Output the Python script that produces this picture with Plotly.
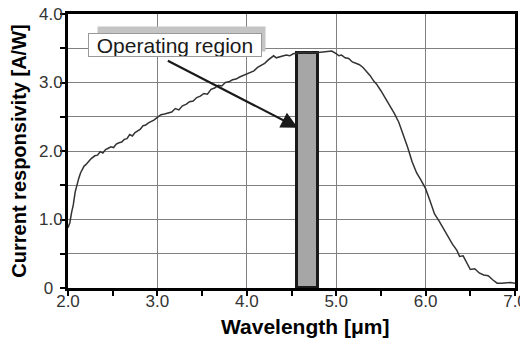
import plotly.graph_objects as go

# ---- data ----
wavelength = [2.00, 2.02, 2.04, 2.06, 2.08, 2.10, 2.12, 2.14, 2.16, 2.18,
              2.20, 2.22, 2.24, 2.26, 2.28, 2.30, 2.33, 2.36, 2.39, 2.42,
              2.45, 2.48, 2.51, 2.54, 2.57, 2.60, 2.63, 2.66, 2.69, 2.72,
              2.75, 2.78, 2.81, 2.84, 2.87, 2.90, 2.93, 2.96, 3.00, 3.04,
              3.08, 3.12, 3.16, 3.20, 3.24, 3.28, 3.32, 3.36, 3.40, 3.44,
              3.48, 3.52, 3.56, 3.60, 3.64, 3.68, 3.72, 3.76, 3.80, 3.84,
              3.88, 3.92, 3.96, 4.00, 4.04, 4.08, 4.12, 4.16, 4.20, 4.24,
              4.28, 4.30, 4.33, 4.36, 4.40, 4.44, 4.48, 4.52, 4.56, 4.60,
              4.65, 4.70, 4.75, 4.80, 4.85, 4.90, 4.95, 5.00, 5.03, 5.06,
              5.10, 5.14, 5.18, 5.22, 5.26, 5.30, 5.34, 5.38, 5.42, 5.45,
              5.50, 5.55, 5.60, 5.65, 5.70, 5.75, 5.80, 5.85, 5.90, 5.95,
              6.00, 6.05, 6.10, 6.15, 6.20, 6.25, 6.30, 6.35, 6.38, 6.42,
              6.46, 6.50, 6.55, 6.60, 6.65, 6.70, 6.75, 6.80, 6.85, 6.90,
              6.95, 7.00]
responsivity = [0.88, 0.95, 1.10, 1.22, 1.40, 1.52, 1.60, 1.68, 1.73, 1.78,
                1.80, 1.84, 1.86, 1.89, 1.91, 1.93, 1.94, 1.99, 1.97, 2.02,
                2.04, 2.06, 2.05, 2.10, 2.12, 2.13, 2.17, 2.18, 2.24, 2.22,
                2.27, 2.30, 2.32, 2.37, 2.38, 2.41, 2.43, 2.45, 2.49, 2.53,
                2.54, 2.56, 2.57, 2.62, 2.60, 2.66, 2.68, 2.72, 2.73, 2.78,
                2.80, 2.84, 2.83, 2.90, 2.92, 2.96, 2.95, 3.00, 3.01, 3.04,
                3.05, 3.08, 3.10, 3.12, 3.14, 3.17, 3.22, 3.25, 3.28, 3.33,
                3.37, 3.39, 3.36, 3.37, 3.38, 3.40, 3.39, 3.42, 3.43, 3.44,
                3.43, 3.44, 3.43, 3.44, 3.45, 3.45, 3.46, 3.42, 3.39, 3.40,
                3.36, 3.35, 3.30, 3.28, 3.26, 3.22, 3.16, 3.10, 3.02, 2.98,
                2.88, 2.77, 2.67, 2.55, 2.42, 2.24, 2.05, 1.84, 1.68, 1.57,
                1.45, 1.27, 1.08, 0.98, 0.86, 0.74, 0.64, 0.55, 0.46, 0.47,
                0.38, 0.27, 0.28, 0.22, 0.19, 0.18, 0.12, 0.07, 0.07, 0.08,
                0.08, 0.07]

# operating region band
op_start = 4.56
op_end = 4.80
op_top = 3.43
op_label = "Operating region"
arrow_tail = (3.10, 3.33)
arrow_tip = (4.57, 2.34)
label_pos = (3.20, 3.55)

x_title = "<b>Wavelength [μm]</b>"
y_title = "<b>Current responsivity [A/W]</b>"
x_major = [2, 3, 4, 5, 6, 7]
x_major_text = ["2.0", "3.0", "4.0", "5.0", "6.0", "7.0"]
x_minor = [2.5, 3.5, 4.5, 5.5, 6.5]
y_major = [0, 1, 2, 3, 4]
y_major_text = ["0\u00a0\u00a0", "1.0", "2.0", "3.0", "4.0"]
y_minor = [0.5, 1.5, 2.5, 3.5]

FONT = "Liberation Sans, Arial, sans-serif"
GRID = "#808080"

fig = go.Figure()
fig.add_trace(go.Bar(
    x=[(op_start + op_end) / 2], y=[op_top], width=[op_end - op_start],
    marker=dict(color="#a6a6a6", line=dict(color="#1a1a1a", width=3)),
    showlegend=False, hoverinfo="skip"))
fig.add_trace(go.Scatter(
    x=wavelength, y=responsivity, mode="lines",
    line=dict(color="#333333", width=1.5), showlegend=False))

# shadow of label box
fig.add_annotation(x=label_pos[0], y=label_pos[1], xref="x", yref="y",
                   text=op_label, showarrow=False,
                   font=dict(family=FONT, size=21, color="#c4c4c4"),
                   bgcolor="#c4c4c4", borderpad=0, width=167, height=24,
                   xshift=6, yshift=6)
# label box
fig.add_annotation(x=label_pos[0], y=label_pos[1], xref="x", yref="y",
                   text=op_label, showarrow=False,
                   font=dict(family=FONT, size=21, color="#1a1a1a"),
                   bgcolor="white", bordercolor="#999999", borderwidth=1,
                   borderpad=0, width=172, height=22)
# arrow
fig.add_annotation(x=arrow_tip[0], y=arrow_tip[1], xref="x", yref="y",
                   ax=arrow_tail[0], ay=arrow_tail[1], axref="x", ayref="y",
                   text="", showarrow=True, arrowhead=2, arrowsize=1.5,
                   arrowwidth=2.2, arrowcolor="#1a1a1a")
# x-axis title (slightly right of centre, as in the reference)
fig.add_annotation(x=0.53, y=-0.139, xref="paper", yref="paper",
                   text=x_title, showarrow=False, xanchor="center",
                   yanchor="middle",
                   font=dict(size=21, color="black", family=FONT))

# page body adds an 8px offset; figure sized to fit the 528x339 window
fig.update_layout(
    width=520, height=331,
    margin=dict(l=60, r=13, t=6, b=51),
    paper_bgcolor="white", plot_bgcolor="white",
    font=dict(family=FONT, color="#333333"),
    bargap=0,
)
fig.update_xaxes(
    range=[2, 7], tickmode="array", tickvals=x_major, ticktext=x_major_text,
    tickfont=dict(size=17, color="#333333"),
    ticks="outside", ticklen=5, tickwidth=2, tickcolor="black",
    ticklabelstandoff=-9, ticklabeloverflow="allow",
    showgrid=True, gridcolor=GRID, gridwidth=1,
    showline=True, linewidth=3, linecolor="black", mirror=True,
    minor=dict(tickmode="array", tickvals=x_minor, ticks="outside", ticklen=5,
               tickwidth=2, tickcolor="black", showgrid=False),
    zeroline=False, automargin=False,
)
fig.update_yaxes(
    range=[0, 4], tickmode="array", tickvals=y_major, ticktext=y_major_text,
    tickfont=dict(size=17, color="#333333"),
    ticks="outside", ticklen=5, tickwidth=2, tickcolor="black",
    ticklabelstandoff=-6, ticklabeloverflow="allow",
    showgrid=True, gridcolor=GRID, gridwidth=1,
    showline=True, linewidth=3, linecolor="black", mirror=True,
    minor=dict(tickmode="array", tickvals=y_minor, ticks="outside", ticklen=5,
               tickwidth=2, tickcolor="black", showgrid=True,
               gridcolor=GRID, gridwidth=1),
    zeroline=False, automargin=False,
    title=dict(text=y_title,
               font=dict(size=20, color="black", family=FONT), standoff=8),
)

fig.write_html("out.html")
